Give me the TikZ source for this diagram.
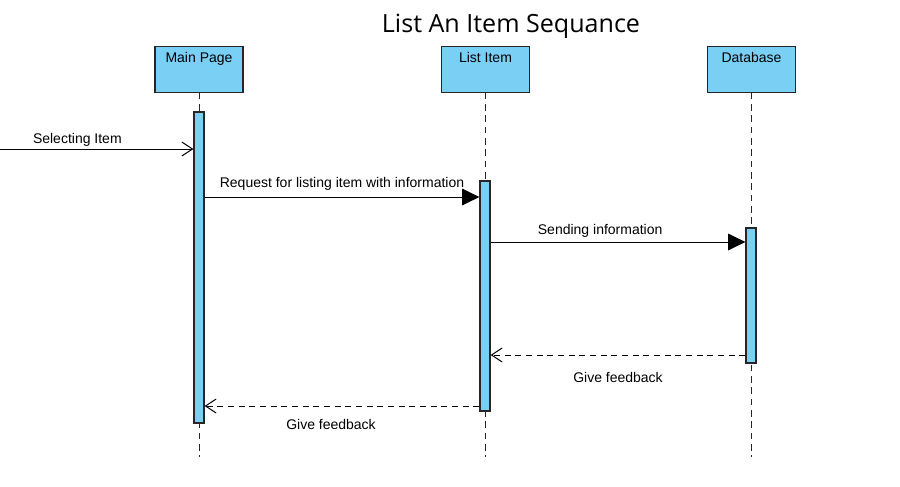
\documentclass[tikz,border=0pt]{standalone}
\usepackage{fontspec}
\setmainfont{Liberation Sans}
\newfontfamily\titlefont{Open Sans}
\usetikzlibrary{arrows.meta, positioning}
\definecolor{lifeblue}{RGB}{122,207,245}
\definecolor{edgegray}{RGB}{38,38,38}

\begin{document}
\begin{tikzpicture}[x=0.75pt,y=0.75pt,yscale=-1,xscale=1,
  actor/.style={draw=edgegray, fill=lifeblue, line width=0.9pt, minimum width=66pt, minimum height=33.75pt,
    inner sep=2pt, text height=9.5pt, text depth=20.5pt, font=\fontsize{10.5}{12}\selectfont},
  actbar/.style={draw=edgegray, fill=lifeblue, line width=0.9pt, minimum width=7.5pt, inner sep=0pt},
  lifeline/.style={draw=edgegray, line width=0.75pt, dash pattern=on 5pt off 3.5pt},
  callmsg/.style={line width=0.75pt, -{Straight Barb[length=8pt,width=10.5pt]}},
  syncmsg/.style={line width=0.75pt, -{Triangle[length=13pt,width=12.5pt]}},
  replymsg/.style={line width=0.75pt, dash pattern=on 4.5pt off 3.5pt, -{Straight Barb[length=8pt,width=10.5pt]}},
  msglabel/.style={font=\fontsize{10.5}{12}\selectfont, inner sep=0pt}]
\useasboundingbox (0,0) rectangle (900,486);

% Title
\node (title) at (511,26) {\titlefont\fontsize{18.8}{22}\selectfont List An Item Sequance};

% Lifeline heads
\node [actor] (mainpage) at (199,69.5) {Main Page};
\node [actor] (listitem) at (485.5,69.5) {List Item};
\node [actor] (database) at (751.5,69.5) {Database};

% Lifelines
\draw [lifeline] (mainpage.south -| 199,0) -- (199,457);
\draw [lifeline] (listitem.south -| 485,0) -- (485,457);
\draw [lifeline] (database.south -| 751,0) -- (751,457);

% Activation bars
\node [actbar, minimum height=233.25pt] (mainbar) at (199,267.5) {};
\node [actbar, minimum height=172.5pt] (listbar) at (485,296) {};
\node [actbar, minimum height=101.25pt] (databar) at (751,295.5) {};

% Messages
\coordinate (start) at (0,149);
\draw [callmsg] (start) -- (mainbar.west |- start)
  node [msglabel, pos=0.4, yshift=6.75pt] (selecting) {Selecting Item};
\draw [syncmsg] (mainbar.east |- 0,197) -- (listbar.west |- 0,197)
  node [msglabel, midway, yshift=9.75pt] (request) {Request for listing item with information};
\draw [syncmsg] (listbar.east |- 0,242) -- (databar.west |- 0,242)
  node [msglabel, pos=0.43, yshift=8.25pt] (sending) {Sending information};
\draw [replymsg] (databar.west |- 0,355) -- (listbar.east |- 0,355)
  node [msglabel, midway, yshift=-16.5pt] (feedbackone) {Give feedback};
\draw [replymsg] (listbar.west |- 0,406) -- (mainbar.east |- 0,406)
  node [msglabel, pos=0.54, yshift=-13.5pt] (feedbacktwo) {Give feedback};

\end{tikzpicture}
\end{document}
